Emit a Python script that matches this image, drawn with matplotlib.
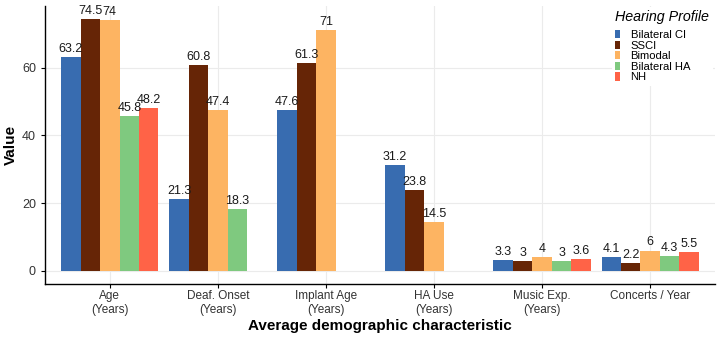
import numpy as np
import matplotlib
matplotlib.use('Agg')
import matplotlib.pyplot as plt
from matplotlib.patches import Patch

plt.rcParams['font.family'] = ['Liberation Sans', 'DejaVu Sans']

# data
categories = ['Age\n(Years)', 'Deaf. Onset\n(Years)', 'Implant Age\n(Years)',
              'HA Use\n(Years)', 'Music Exp.\n(Years)', 'Concerts / Year']
groups = ['Bilateral CI', 'SSCI', 'Bimodal', 'Bilateral HA', 'NH']
bilateral_ci = [63.2, 21.3, 47.6, 31.2, 3.3, 4.1]
ssci = [74.5, 60.8, 61.3, 23.8, 3.0, 2.2]
bimodal = [74.0, 47.4, 71.0, 14.5, 4.0, 6.0]
bilateral_ha = [45.8, 18.3, np.nan, np.nan, 3.0, 4.3]
nh = [48.2, np.nan, np.nan, np.nan, 3.6, 5.5]
colors = ['#386CB0', '#662506', '#FDB462', '#7FC97F', '#FF6347']

series = [bilateral_ci, ssci, bimodal, bilateral_ha, nh]

fig = plt.figure(figsize=(7.21, 3.40), dpi=100)
ax = fig.add_axes([45 / 721, 56.5 / 340, 670 / 721, 277.5 / 340])

x = np.arange(1, len(categories) + 1)
bw = 0.9 / len(groups)
for i, (vals, col) in enumerate(zip(series, colors)):
    pos = x - 0.45 + bw * (i + 0.5)
    vals = np.array(vals, dtype=float)
    ok = ~np.isnan(vals)
    ax.bar(pos[ok], vals[ok], width=bw, color=col, zorder=2)
    for px, v in zip(pos[ok], vals[ok]):
        ax.annotate('%g' % v, (px, v), xytext=(0, 1.5), textcoords='offset points',
                    ha='center', va='bottom', fontsize=9, color='#1a1a1a', zorder=3)

ax.set_xlim(0.4, 6.6)
ax.set_ylim(-3.725, 78.225)
ax.set_xticks(x)
ax.set_xticklabels(categories, fontsize=8.5, color='#333333')
ax.set_yticks([0, 20, 40, 60])
ax.tick_params(axis='y', labelsize=9, labelcolor='#333333', length=3, width=0.8)
ax.tick_params(axis='x', length=3, width=0.8, pad=2)
ax.grid(True, color='#ebebeb', linewidth=0.8, zorder=0)
ax.set_axisbelow(True)
for s in ['top', 'right']:
    ax.spines[s].set_visible(False)
for s in ['left', 'bottom']:
    ax.spines[s].set_linewidth(1.0)

ax.set_xlabel('Average demographic characteristic', fontsize=11, fontweight='bold', labelpad=2)
ax.set_ylabel('Value', fontsize=11, fontweight='bold', labelpad=3)

handles = [Patch(facecolor=c, edgecolor='none') for c in colors]
leg = ax.legend(handles, groups, title='Hearing Profile', loc='upper left',
                bbox_to_anchor=(612 / 721, 1 - 7 / 340), bbox_transform=fig.transFigure,
                fontsize=8.1, title_fontsize=10.3, frameon=True, fancybox=False,
                edgecolor='none', facecolor='white', framealpha=1,
                handlelength=0.45, handleheight=0.75, handletextpad=0.9,
                labelspacing=0.05, borderpad=0.3, borderaxespad=0)
leg.get_title().set_fontstyle('italic')
leg._legend_box.align = 'left'
leg._legend_box.sep = 4

fig.savefig('out.png', dpi=100)
